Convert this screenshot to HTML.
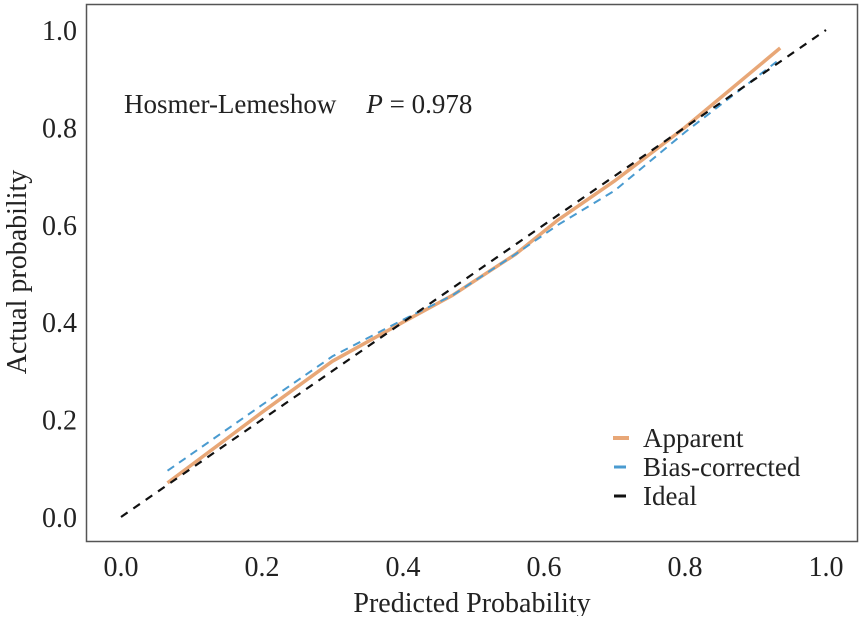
<!DOCTYPE html>
<html><head><meta charset="utf-8"><style>
html,body{margin:0;padding:0;background:#fff;}
svg text{font-family:"Liberation Serif",serif;fill:#222;}
</style></head><body>
<svg id="chart" width="864" height="616" xmlns="http://www.w3.org/2000/svg">
<rect x="86.5" y="4.5" width="771" height="537" fill="#fff" stroke="#555" stroke-width="1.5"/>
<g id="axes"></g>
<g id="series"></g>
<text x="124" y="113" font-size="27">Hosmer-Lemeshow<tspan dx="30" font-style="italic">P</tspan> = 0.978</text>
<text x="472" y="612" font-size="28" text-anchor="middle">Predicted Probability</text>
<text transform="translate(26,272) rotate(-90)" font-size="28" text-anchor="middle">Actual probability</text>
<g>
<line x1="613" y1="438" x2="629" y2="438" stroke="#e8a777" stroke-width="4"/>
<text x="643" y="447" font-size="27">Apparent</text>
<line x1="614" y1="467" x2="626" y2="467" stroke="#4a9bd0" stroke-width="3"/>
<text x="643" y="476" font-size="27">Bias-corrected</text>
<line x1="614" y1="496" x2="626" y2="496" stroke="#111" stroke-width="3"/>
<text x="643" y="505" font-size="27">Ideal</text>
</g>
</svg>
<script>
const xTicks = [0, 0.2, 0.4, 0.6, 0.8, 1.0];
const yTicks = [0, 0.2, 0.4, 0.6, 0.8, 1.0];
const tickLabels = ["0.0", "0.2", "0.4", "0.6", "0.8", "1.0"];
const apparentX = [0.066, 0.2, 0.3, 0.4, 0.47, 0.56, 0.62, 0.7, 0.8, 0.935];
const apparentY = [0.07, 0.215, 0.32, 0.40, 0.455, 0.54, 0.61, 0.69, 0.80, 0.963];
const biasX = [0.066, 0.2, 0.3, 0.4, 0.47, 0.56, 0.62, 0.7, 0.8, 0.93];
const biasY = [0.095, 0.23, 0.33, 0.405, 0.455, 0.54, 0.60, 0.67, 0.79, 0.935];
const idealX = [0, 1];
const idealY = [0, 1];

const NS = "http://www.w3.org/2000/svg";
const sx = v => 121 + v * 705;
const sy = v => 517 - v * 487;
const axes = document.getElementById('axes');
const series = document.getElementById('series');

xTicks.forEach((v, i) => {
  const t = document.createElementNS(NS, 'text');
  t.setAttribute('x', sx(v)); t.setAttribute('y', 576);
  t.setAttribute('font-size', '28'); t.setAttribute('text-anchor', 'middle');
  t.textContent = tickLabels[i];
  
  
  axes.appendChild(t);
});
yTicks.forEach((v, i) => {
  const t = document.createElementNS(NS, 'text');
  t.setAttribute('x', 77); t.setAttribute('y', sy(v) + 10);
  t.setAttribute('font-size', '28'); t.setAttribute('text-anchor', 'end');
  t.textContent = tickLabels[i];
  
  
  axes.appendChild(t);
});

function line(xs, ys, color, width, dash, name) {
  const p = document.createElementNS(NS, 'polyline');
  p.setAttribute('points', xs.map((x, i) => sx(x) + ',' + sy(ys[i])).join(' '));
  p.setAttribute('fill', 'none');
  p.setAttribute('stroke', color);
  p.setAttribute('stroke-width', width);
  if (dash) p.setAttribute('stroke-dasharray', dash);
  
  
  series.appendChild(p);
}
line(apparentX, apparentY, '#e8a777', 3.5, null, 'apparent-line');
line(biasX, biasY, '#4a9bd0', 2, '8,6', 'bias-corrected-line');
line(idealX, idealY, '#111', 2.2, '8,7', 'ideal-line');
</script>
</body></html>
